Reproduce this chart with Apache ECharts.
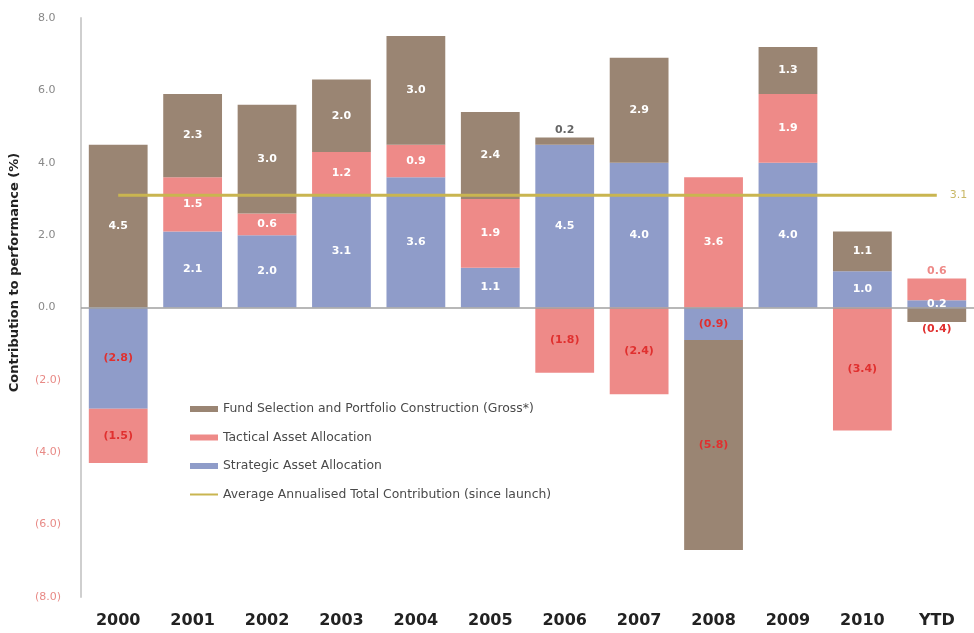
<!DOCTYPE html>
<html>
<head>
<meta charset="utf-8">
<script src="https://cdn.jsdelivr.net/npm/echarts@6/dist/echarts.min.js"></script>
<style>html,body{margin:0;padding:0;background:#fff;}#c{width:974px;height:633px;}</style>
</head>
<body>
<div id="c"></div>
<script>
var categories = ['2000','2001','2002','2003','2004','2005','2006','2007','2008','2009','2010','YTD'];
var strategic = [-2.8, 2.1, 2.0, 3.1, 3.6, 1.1, 4.5, 4.0, -0.9, 4.0, 1.0, 0.2];
var tactical  = [-1.5, 1.5, 0.6, 1.2, 0.9, 1.9, -1.8, -2.4, 3.6, 1.9, -3.4, 0.6];
var fund      = [4.5, 2.3, 3.0, 2.0, 3.0, 2.4, 0.2, 2.9, -5.8, 1.3, 1.1, -0.4];
var average   = [3.1, 3.1, 3.1, 3.1, 3.1, 3.1, 3.1, 3.1, 3.1, 3.1, 3.1, 3.1];
var seriesNames = ['Strategic Asset Allocation','Tactical Asset Allocation','Fund Selection and Portfolio Construction (Gross*)'];
var lineName = 'Average Annualised Total Contribution (since launch)';

var colors = ['#8F9CC9', '#EE8A88', '#9A8573'];
var stackVals = [strategic, tactical, fund];

function fmt(v){ return v < 0 ? '(' + Math.abs(v).toFixed(1) + ')' : v.toFixed(1); }

function buildData(si){
  return stackVals[si].map(function(v, i){
    var outer = true;
    for (var k = si + 1; k < stackVals.length; k++){
      if ((stackVals[k][i] >= 0) === (v >= 0)) { outer = false; }
    }
    var label;
    if (outer && Math.abs(v) <= 0.6){
      label = { position: v >= 0 ? 'top' : 'bottom', color: v >= 0 ? (si === 2 ? '#666' : colors[si]) : '#E0302F', distance: 2 };
    } else {
      label = { position: 'inside', color: v >= 0 ? '#fff' : '#E0302F' };
    }
    return { value: v, label: label };
  });
}

var series = [];
for (var s = 0; s < 3; s++){
  series.push({
    name: seriesNames[s], type: 'bar', stack: 'total', barCategoryGap: '21%',
    itemStyle: { color: colors[s] },
    label: { show: true, fontFamily: 'DejaVu Sans', fontWeight: 'bold', fontSize: 11,
             formatter: function(p){ return fmt(p.value); } },
    data: buildData(s),
    markLine: s === 0 ? { silent: true, symbol: 'none', label: { show: false },
      lineStyle: { color: '#a0a0a0', width: 1.5, type: 'solid' }, data: [{ yAxis: 0 }] } : undefined
  });
}
series.push({
  name: lineName, type: 'line', symbol: 'none', data: average, z: 5,
  lineStyle: { color: '#C9B550', width: 3 }, itemStyle: { color: '#C9B550' },
  endLabel: { show: true, formatter: function(p){ return p.value.toFixed(1); }, color: '#C9B866',
    fontFamily: 'DejaVu Sans', fontSize: 11, distance: 13 }
});

var chart = echarts.init(document.getElementById('c'));
chart.setOption({
  animation: false,
  backgroundColor: '#fff',
  grid: { left: 80, right: 0, top: 18, bottom: 36 },
  legend: {
    orient: 'vertical', left: 184, top: 398, itemWidth: 28, itemHeight: 6, itemGap: 16.5,
    data: [
      { name: seriesNames[2], icon: 'rect' },
      { name: seriesNames[1], icon: 'rect' },
      { name: seriesNames[0], icon: 'rect' },
      { name: lineName, itemStyle: { opacity: 0 } }
    ],
    textStyle: { fontFamily: 'DejaVu Sans', fontSize: 12.4, color: '#4a4a4a' }
  },
  xAxis: {
    type: 'category', data: categories,
    axisLine: { show: false }, axisTick: { show: false },
    axisLabel: { margin: 16, fontFamily: 'DejaVu Sans', fontWeight: 'bold', fontSize: 16, color: '#222' }
  },
  yAxis: {
    type: 'value', min: -8, max: 8, interval: 2,
    name: 'Contribution to performance (%)', nameLocation: 'middle', nameGap: 60,
    nameTextStyle: { fontFamily: 'DejaVu Sans', fontWeight: 'bold', fontSize: 13, color: '#222', padding: [0, 0, 0, 70] },
    axisLine: { show: true, lineStyle: { color: '#cfcfcf', width: 2 } },
    axisTick: { show: false }, splitLine: { show: false },
    axisLabel: { margin: 20, fontFamily: 'DejaVu Sans', fontSize: 11,
      formatter: function(v){ return v < 0 ? fmt(v) : fmt(v) + '\u2002'; },
      color: function(v){ return Number(v) < 0 ? '#E88A86' : '#888'; } }
  },
  series: series
});
</script>
</body>
</html>
